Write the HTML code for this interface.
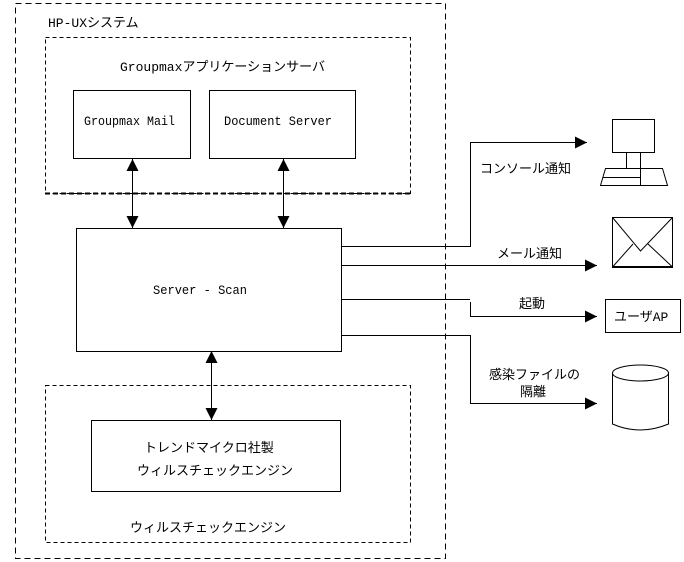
<!DOCTYPE html>
<html><head><meta charset="utf-8"><style>
html,body{margin:0;padding:0;background:#fff;}
svg{display:block;}
text{font-family:"Liberation Mono","Noto Sans CJK JP",monospace;font-size:13px;fill:#000;}
</style></head><body>
<svg width="684" height="562" viewBox="0 0 684 562" xmlns="http://www.w3.org/2000/svg">
<defs>
<marker id="b" viewBox="0 0 12 12" refX="12" refY="6" markerWidth="12" markerHeight="12" markerUnits="userSpaceOnUse" orient="auto-start-reverse"><path d="M0,0L12,6L0,12z" fill="#000"/></marker>
</defs>
<g fill="none" stroke="#000" stroke-width="1">
<rect x="15.5" y="3.5" width="430" height="555" stroke-dasharray="6,4"/>
<rect x="45.5" y="37.5" width="365" height="156" stroke-dasharray="4,3"/>
<line x1="45" y1="193.5" x2="411" y2="193.5" stroke-width="2" stroke-dasharray="5,3"/>
<rect x="45.5" y="385.5" width="365" height="157" stroke-dasharray="4,3"/>
<rect x="73.5" y="90.5" width="117" height="68"/>
<rect x="209.5" y="90.5" width="146" height="68"/>
<rect x="76.5" y="228.5" width="265" height="123"/>
<rect x="91.5" y="420.5" width="249" height="71"/>
<line x1="132.5" y1="159" x2="132.5" y2="228" marker-start="url(#b)" marker-end="url(#b)"/>
<line x1="283.5" y1="159" x2="283.5" y2="228" marker-start="url(#b)" marker-end="url(#b)"/>
<line x1="211.5" y1="351" x2="211.5" y2="420" marker-start="url(#b)" marker-end="url(#b)"/>
<polyline points="341,246.5 470.5,246.5 470.5,142.5 587,142.5" marker-end="url(#b)"/>
<line x1="341" y1="265.5" x2="597" y2="265.5" marker-end="url(#b)"/>
<polyline points="341,299.5 470,299.5"/>
<polyline points="470.5,302 470.5,316.5 597,316.5" marker-end="url(#b)"/>
<polyline points="341,335.5 470.5,335.5 470.5,403.5 597,403.5" marker-end="url(#b)"/>
<rect x="612.5" y="119.5" width="42" height="33"/>
<rect x="626.5" y="152.5" width="14" height="16"/>
<path d="M605.5,168.5H662.5L667.5,185.5H600.5Z"/>
<path d="M603,177.5H640.5M640.5,168.5V185.5"/>
<rect x="612.5" y="217.5" width="60" height="50"/>
<line x1="612" y1="267" x2="673" y2="267" stroke-width="2"/>
<path d="M612.5,217.5L640.5,251L672.5,217.5M612.5,267L633,244M672.5,267L648,244"/>
<rect x="605.5" y="299.5" width="75" height="33"/>
<path d="M612.5,373V424Q640,436 668.5,424V373"/>
<ellipse cx="640.5" cy="373" rx="28" ry="8"/>
</g>
<text x="48" y="27">HP-UXシステム</text>
<text x="120" y="71">Groupmaxアプリケーションサーバ</text>
<text x="84" y="125" textLength="91" lengthAdjust="spacingAndGlyphs">Groupmax Mail</text>
<text x="224" y="125" textLength="108" lengthAdjust="spacingAndGlyphs">Document Server</text>
<text x="153" y="294" textLength="94" lengthAdjust="spacingAndGlyphs">Server - Scan</text>
<text x="144" y="452">トレンドマイクロ社製</text>
<text x="137" y="475">ウィルスチェックエンジン</text>
<text x="130" y="532">ウィルスチェックエンジン</text>
<text x="480" y="173">コンソール通知</text>
<text x="497" y="258">メール通知</text>
<text x="519" y="308">起動</text>
<text x="614" y="321">ユーザAP</text>
<text x="489" y="379">感染ファイルの</text>
<text x="520" y="396">隔離</text>
</svg>
</body></html>
